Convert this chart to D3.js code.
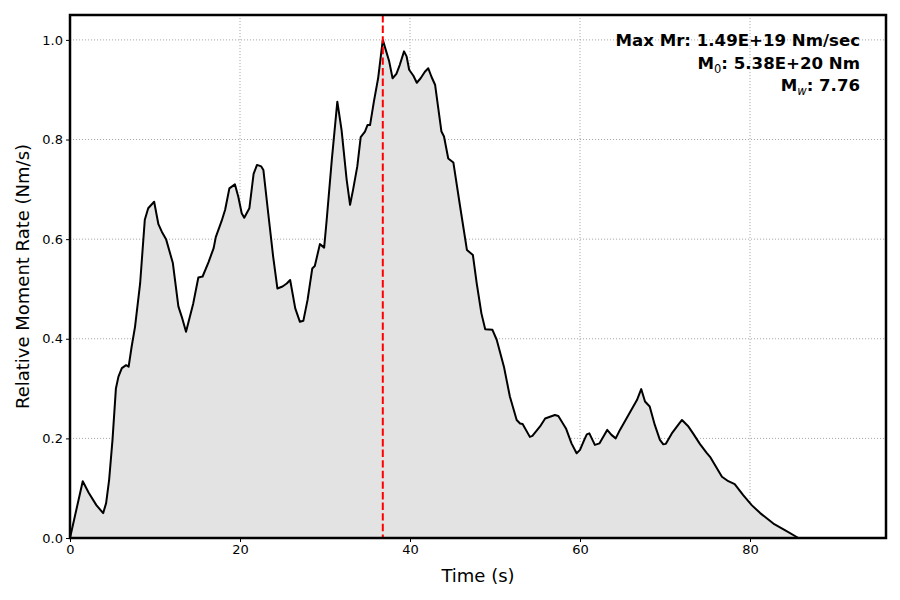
<!DOCTYPE html>
<html>
<head>
<meta charset="utf-8">
<script src="https://cdn.jsdelivr.net/npm/d3@7"></script>
<style>
  body { margin: 0; background: #fff; }
  text { font-family: "DejaVu Sans", sans-serif; }
</style>
</head>
<body>
<div id="chart"></div>
<script>
// moment rate function (time in s, relative rate)
const times = [0, 1.5, 2.2, 3.1, 3.9, 4.25, 4.6, 5.0, 5.4, 5.7, 6.1, 6.6, 6.9, 7.25, 7.65, 8.25, 8.8, 9.2, 9.9,
  10.4, 10.8, 11.3, 12.1, 12.75, 13.15, 13.65, 14.5, 15.1, 15.6, 16.3, 16.9, 17.15, 17.85, 18.25, 18.75, 19.4, 19.8,
  20.2, 20.5, 21.1, 21.6, 22.0, 22.5, 22.75, 23.3, 23.9, 24.4, 25.0, 25.5, 25.9, 26.5, 27.05, 27.45, 27.95, 28.5,
  28.8, 29.4, 29.9, 30.2, 30.8, 31.45, 31.95, 32.55, 32.95, 33.3, 33.8, 34.2, 34.7, 35.0, 35.3, 35.75, 36.25, 36.8,
  37.2, 37.55, 37.95, 38.4, 38.8, 39.3, 39.6, 39.9, 40.4, 40.8, 41.25, 41.75, 42.15, 42.55, 42.95, 43.3, 43.7, 44.0,
  44.5, 45.1, 45.9, 46.7, 47.4, 47.85, 48.4, 48.85, 49.7, 50.2, 51.05, 51.75, 52.55, 52.95, 53.25, 54.1, 54.4,
  55.3, 55.9, 56.55, 57.05, 57.45, 58.35, 59.0, 59.6, 60.0, 60.5, 60.8, 61.1, 61.75, 62.3, 63.2, 63.7, 64.2, 64.7,
  65.7, 66.7, 67.2, 67.65, 68.2, 68.8, 69.4, 69.8, 70.1, 70.8, 71.55, 72.0, 72.7, 73.3, 74.1, 74.9, 75.3, 76.0,
  76.7, 77.45, 78.2, 79.2, 80.2, 81.2, 82.75, 84.1, 85.7, 96];
const rates = [0, 0.114, 0.091, 0.066, 0.050, 0.070, 0.116, 0.197, 0.300, 0.324, 0.341, 0.347, 0.344, 0.384, 0.424,
  0.511, 0.639, 0.662, 0.675, 0.630, 0.615, 0.600, 0.552, 0.465, 0.444, 0.414, 0.471, 0.523, 0.525, 0.554, 0.582,
  0.604, 0.637, 0.659, 0.702, 0.710, 0.685, 0.652, 0.643, 0.662, 0.731, 0.749, 0.746, 0.739, 0.655, 0.565, 0.501,
  0.505, 0.511, 0.518, 0.461, 0.434, 0.436, 0.478, 0.541, 0.546, 0.590, 0.583, 0.639, 0.759, 0.876, 0.819, 0.719,
  0.669, 0.699, 0.746, 0.805, 0.816, 0.829, 0.829, 0.876, 0.923, 1.0, 0.977, 0.957, 0.923, 0.932, 0.950, 0.977,
  0.967, 0.940, 0.928, 0.914, 0.923, 0.936, 0.943, 0.925, 0.910, 0.866, 0.816, 0.806, 0.762, 0.754, 0.665, 0.578,
  0.568, 0.511, 0.451, 0.419, 0.418, 0.398, 0.344, 0.284, 0.237, 0.230, 0.229, 0.203, 0.205, 0.224, 0.240, 0.244,
  0.247, 0.245, 0.220, 0.190, 0.170, 0.177, 0.197, 0.208, 0.210, 0.187, 0.190, 0.217, 0.207, 0.200, 0.217, 0.247,
  0.277, 0.299, 0.274, 0.264, 0.227, 0.197, 0.188, 0.189, 0.210, 0.227, 0.237, 0.225, 0.210, 0.189, 0.171, 0.163,
  0.143, 0.123, 0.114, 0.108, 0.086, 0.066, 0.050, 0.029, 0.016, 0, 0];
const xTicks = [0, 20, 40, 60, 80];
const yTicks = [0.0, 0.2, 0.4, 0.6, 0.8, 1.0];
const peakTime = 36.8;
const infoLines = [
  { main: "Max Mr: 1.49E+19 Nm/sec", sub: null, rest: "" },
  { main: "M", sub: "0", rest: ": 5.38E+20 Nm" },
  { main: "M", sub: "w", rest: ": 7.76" }
];

const width = 900, height = 600;
const margins = { top: 15, right: 14, bottom: 62, left: 70 };
const chartWidth = width - margins.left - margins.right;
const chartHeight = height - margins.top - margins.bottom;

const svg = d3.select("#chart").append("svg")
  .attr("width", width).attr("height", height);
const chartArea = svg.append("g")
  .attr("transform", `translate(${margins.left},${margins.top})`);

const x = d3.scaleLinear().domain([0, 96]).range([0, chartWidth]);
const y = d3.scaleLinear().domain([0, 1.05]).range([chartHeight, 0]);

// gridlines
chartArea.append("g").selectAll("line").data(xTicks).join("line")
  .attr("x1", d => x(d)).attr("x2", d => x(d))
  .attr("y1", 0).attr("y2", chartHeight)
  .attr("stroke", "#a8a8a8").attr("stroke-width", 1).attr("stroke-dasharray", "1.1,1.9");
chartArea.append("g").selectAll("line").data(yTicks).join("line")
  .attr("x1", 0).attr("x2", chartWidth)
  .attr("y1", d => y(d)).attr("y2", d => y(d))
  .attr("stroke", "#a8a8a8").attr("stroke-width", 1).attr("stroke-dasharray", "1.1,1.9");

const pts = times.map((t, i) => [t, rates[i]]);

chartArea.append("path").datum(pts)
  .attr("d", d3.area().x(d => x(d[0])).y0(y(0)).y1(d => y(d[1])))
  .attr("fill", "#e3e3e3");
chartArea.append("path").datum(pts)
  .attr("d", d3.line().x(d => x(d[0])).y(d => y(d[1])))
  .attr("fill", "none").attr("stroke", "#000").attr("stroke-width", 2)
  .attr("stroke-linejoin", "round");

// peak time marker
chartArea.append("line")
  .attr("x1", x(peakTime)).attr("x2", x(peakTime))
  .attr("y1", 0).attr("y2", chartHeight)
  .attr("stroke", "red").attr("stroke-width", 2).attr("stroke-dasharray", "7.4,3.2");

// axes
const xAxis = chartArea.append("g")
  .attr("transform", `translate(0,${chartHeight})`)
  .call(d3.axisBottom(x).tickValues(xTicks).tickFormat(d3.format("d")).tickSize(4).tickPadding(3));
const yAxis = chartArea.append("g")
  .call(d3.axisLeft(y).tickValues(yTicks).tickFormat(d3.format(".1f")).tickSize(4).tickPadding(3));
[xAxis, yAxis].forEach(a => {
  a.select(".domain").remove();
  a.selectAll("text").attr("font-size", 13).attr("fill", "#000")
    .style("font-family", "DejaVu Sans, sans-serif");
  a.selectAll("line").attr("stroke", "#000").attr("stroke-width", 1);
});

// frame
chartArea.append("rect")
  .attr("width", chartWidth).attr("height", chartHeight)
  .attr("fill", "none").attr("stroke", "#000").attr("stroke-width", 2.5);

// axis labels
svg.append("text")
  .attr("x", margins.left + chartWidth / 2).attr("y", 582)
  .attr("text-anchor", "middle").attr("font-size", 18)
  .text("Time (s)");
svg.append("text")
  .attr("transform", `translate(29,${margins.top + chartHeight / 2}) rotate(-90)`)
  .attr("text-anchor", "middle").attr("font-size", 18)
  .text("Relative Moment Rate (Nm/s)");

// info box
const info = svg.append("g").attr("font-weight", "bold").attr("font-size", 16.6);
infoLines.forEach((l, i) => {
  const t = info.append("text")
    .attr("x", 860).attr("y", 46 + i * 22.5)
    .attr("text-anchor", "end");
  t.append("tspan").text(l.main);
  if (l.sub) {
    t.append("tspan").attr("font-size", 11.5).attr("dy", 4)
      .attr("font-weight", "normal")
      .attr("font-style", l.sub === "w" ? "italic" : "normal")
      .text(l.sub);
    t.append("tspan").attr("dy", -4).text(l.rest);
  }
});
</script>
</body>
</html>
